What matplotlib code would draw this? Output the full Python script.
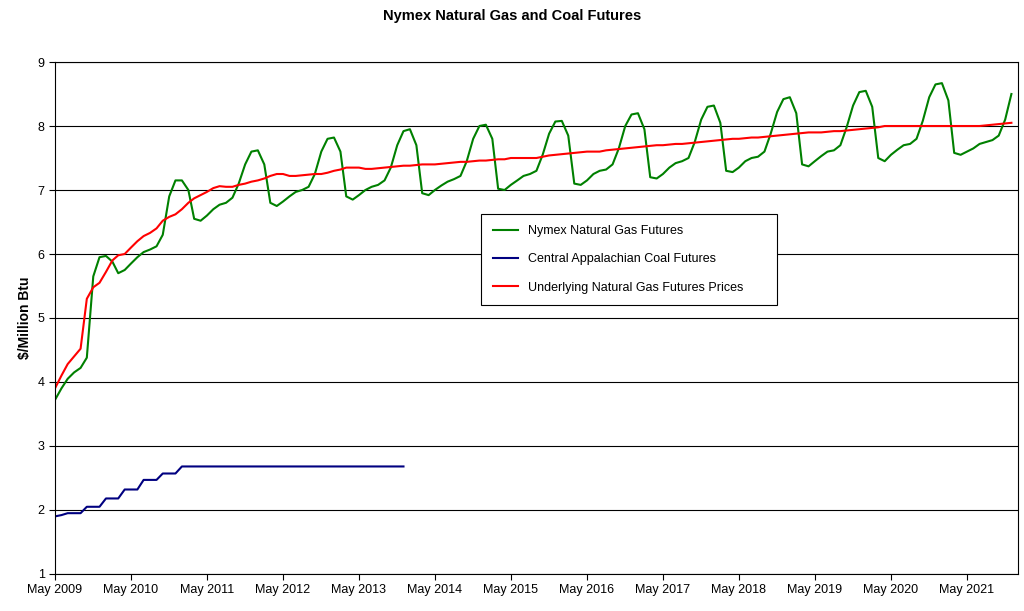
import matplotlib
matplotlib.use("Agg")
import matplotlib.pyplot as plt
import matplotlib.dates as mdates
import pandas as pd

plt.rcParams["font.family"] = ["Liberation Sans", "DejaVu Sans"]

# monthly values, May..Apr per season
gas = [
    3.72, 3.9, 4.05, 4.15, 4.22, 4.38, 5.65, 5.95, 5.97, 5.88, 5.7, 5.75,
    5.85, 5.95, 6.03, 6.07, 6.12, 6.3, 6.9, 7.15, 7.15, 7.0, 6.55, 6.52,
    6.6, 6.7, 6.77, 6.8, 6.88, 7.1, 7.4, 7.6, 7.62, 7.4, 6.8, 6.75,
    6.82, 6.9, 6.97, 7.0, 7.05, 7.25, 7.6, 7.8, 7.82, 7.6, 6.9, 6.85,
    6.92, 7.0, 7.05, 7.08, 7.15, 7.35, 7.7, 7.92, 7.95, 7.7, 6.95, 6.92,
    7.0, 7.07, 7.13, 7.17, 7.22, 7.45, 7.8, 8.0, 8.02, 7.8, 7.02, 7.0,
    7.08, 7.15, 7.22, 7.25, 7.3, 7.55, 7.88, 8.07, 8.08, 7.85, 7.1, 7.08,
    7.15, 7.25, 7.3, 7.32, 7.4, 7.65, 8.0, 8.18, 8.2, 7.95, 7.2, 7.18,
    7.25, 7.35, 7.42, 7.45, 7.5, 7.75, 8.1, 8.3, 8.32, 8.05, 7.3, 7.28,
    7.35, 7.45, 7.5, 7.52, 7.6, 7.88, 8.22, 8.42, 8.45, 8.2, 7.4, 7.37,
    7.45, 7.53, 7.6, 7.62, 7.7, 7.98, 8.32, 8.53, 8.55, 8.3, 7.5, 7.45,
    7.55, 7.63, 7.7, 7.72, 7.8, 8.08, 8.45, 8.65, 8.67, 8.4, 7.58, 7.55,
    7.6, 7.65, 7.72, 7.75, 7.78, 7.85, 8.1, 8.5,
]

underlying = [
    3.9, 4.1, 4.28, 4.4, 4.52, 5.3, 5.48, 5.55, 5.72, 5.9, 5.98, 6.0,
    6.1, 6.2, 6.28, 6.33, 6.4, 6.52, 6.58, 6.62, 6.7, 6.8, 6.87, 6.92,
    6.97, 7.03, 7.06, 7.05, 7.05, 7.08, 7.1, 7.13, 7.15, 7.18, 7.22, 7.25,
    7.25, 7.22, 7.22, 7.23, 7.24, 7.25, 7.25, 7.27, 7.3, 7.32, 7.35, 7.35,
    7.35, 7.33, 7.33, 7.34, 7.35, 7.36, 7.37, 7.38, 7.38, 7.39, 7.4, 7.4,
    7.4, 7.41, 7.42, 7.43, 7.44, 7.44, 7.45, 7.46, 7.46, 7.47, 7.48, 7.48,
    7.5, 7.5, 7.5, 7.5, 7.5, 7.52, 7.54, 7.55, 7.56, 7.57, 7.58, 7.59,
    7.6, 7.6, 7.6, 7.62, 7.63, 7.64, 7.65, 7.66, 7.67, 7.68, 7.69, 7.7,
    7.7, 7.71, 7.72, 7.72, 7.73, 7.74, 7.75, 7.76, 7.77, 7.78, 7.79, 7.8,
    7.8, 7.81, 7.82, 7.82, 7.83, 7.84, 7.85, 7.86, 7.87, 7.88, 7.89, 7.9,
    7.9, 7.9, 7.91, 7.92, 7.92, 7.93, 7.94, 7.95, 7.96, 7.97, 7.98, 8.0,
    8.0, 8.0, 8.0, 8.0, 8.0, 8.0, 8.0, 8.0, 8.0, 8.0, 8.0, 8.0,
    8.0, 8.0, 8.0, 8.01, 8.02, 8.03, 8.04, 8.05,
]

coal = [1.9, 1.92, 1.95, 1.95, 1.95, 2.05, 2.05, 2.05, 2.18, 2.18, 2.18,
        2.32, 2.32, 2.32, 2.47, 2.47, 2.47, 2.57, 2.57, 2.57] + [2.68] * 36

start = "2009-05-01"
gas_dates = pd.date_range(start, periods=len(gas), freq="MS")
und_dates = pd.date_range(start, periods=len(underlying), freq="MS")
coal_dates = pd.date_range(start, periods=len(coal), freq="MS")

fig = plt.figure(figsize=(10.24, 6.11), dpi=100)
ax = fig.add_axes([0.0537, 0.0606, 0.9403, 0.8379])

ax.plot(gas_dates, gas, color="#008000", lw=1.5, label="Nymex Natural Gas Futures")
ax.plot(coal_dates, coal, color="#000080", lw=1.5, label="Central Appalachian Coal Futures")
ax.plot(und_dates, underlying, color="#ff0000", lw=1.5, label="Underlying Natural Gas Futures Prices")

ax.set_ylim(1, 9)
ax.set_yticks(range(1, 10))
ax.set_xlim(pd.Timestamp("2009-05-01"), pd.Timestamp("2022-01-01"))
ax.xaxis.set_major_locator(mdates.MonthLocator(bymonth=5))
ax.xaxis.set_major_formatter(mdates.DateFormatter("%b %Y"))
ax.grid(axis="y", color="black", lw=0.8)
ax.set_axisbelow(True)
for s in ax.spines.values():
    s.set_color("black")
ax.tick_params(labelsize=9, direction="out", length=4)
ax.set_ylabel("$/Million Btu", fontsize=10, fontweight="bold")

fig.suptitle("Nymex Natural Gas and Coal Futures", fontsize=10.5, fontweight="bold", y=0.985)

leg = ax.legend(loc="upper left", bbox_to_anchor=(0.464, 0.501, 0.301, 0.159),
                bbox_transform=fig.transFigure, mode="expand", fontsize=9,
                fancybox=False, edgecolor="black", framealpha=1,
                labelspacing=1.3, handlelength=2, borderpad=0.9)
leg.get_frame().set_linewidth(0.8)

fig.savefig("out.png", dpi=100)
